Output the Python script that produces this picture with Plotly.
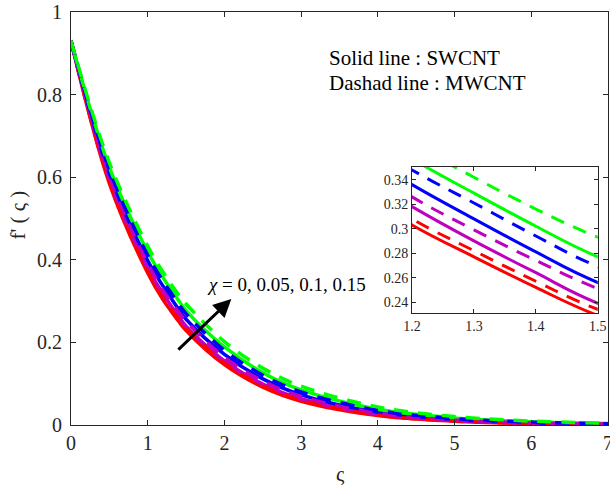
import plotly.graph_objects as go

# eta values (ς)
xs = [0, 0.5, 1, 1.2, 1.3, 1.4, 1.5, 2, 2.5, 3, 4, 5, 6, 7]

# SWCNT (solid) f'(ς) for χ = 0, 0.05, 0.1, 0.15
sw_chi0   = [0.93, 0.585, 0.368, 0.303, 0.277, 0.252, 0.229, 0.146, 0.0916, 0.0576, 0.0228, 0.0090, 0.0036, 0.0014]
sw_chi005 = [0.93, 0.595, 0.380, 0.318, 0.290, 0.264, 0.239, 0.155, 0.0994, 0.0635, 0.0260, 0.0106, 0.0043, 0.0018]
sw_chi01  = [0.93, 0.609, 0.398, 0.336, 0.308, 0.281, 0.256, 0.171, 0.1116, 0.0731, 0.0313, 0.0134, 0.0057, 0.0025]
sw_chi015 = [0.93, 0.624, 0.419, 0.357, 0.329, 0.302, 0.277, 0.189, 0.1265, 0.0849, 0.0382, 0.0172, 0.0077, 0.0035]
# MWCNT (dashed)
mw_chi0   = [0.93, 0.589, 0.373, 0.308, 0.282, 0.257, 0.234, 0.150, 0.0949, 0.0601, 0.0241, 0.0097, 0.0039, 0.0016]
mw_chi005 = [0.93, 0.603, 0.391, 0.326, 0.299, 0.274, 0.251, 0.164, 0.1065, 0.0690, 0.0290, 0.0122, 0.0051, 0.0021]
mw_chi01  = [0.93, 0.618, 0.411, 0.348, 0.321, 0.294, 0.269, 0.181, 0.1206, 0.0802, 0.0354, 0.0157, 0.0069, 0.0031]
mw_chi015 = [0.93, 0.635, 0.433, 0.370, 0.342, 0.316, 0.293, 0.202, 0.1377, 0.0940, 0.0438, 0.0204, 0.0095, 0.0044]

colors = ["#ff0000", "#bf00bf", "#0000ff", "#00ff00"]
solid_series = [sw_chi0, sw_chi005, sw_chi01, sw_chi015]
dashed_series = [mw_chi0, mw_chi005, mw_chi01, mw_chi015]

main_xticks = [0, 1, 2, 3, 4, 5, 6, 7]
main_yticks = [0, 0.2, 0.4, 0.6, 0.8, 1]
inset_xticks = [1.2, 1.3, 1.4, 1.5]
inset_yticks = [0.24, 0.26, 0.28, 0.3, 0.32, 0.34]

FONT = "Liberation Serif"
AX = "#262626"
DASH = "14px,10px"

fig = go.Figure()
for xa, ya, w in [("x", "y", 3.5), ("x2", "y2", 3)]:
    for c, ys in zip(colors, solid_series):
        fig.add_trace(go.Scatter(x=xs, y=ys, mode="lines", xaxis=xa, yaxis=ya,
                                 line=dict(color=c, width=w, shape="spline"), showlegend=False))
    for c, ys in zip(colors, dashed_series):
        fig.add_trace(go.Scatter(x=xs, y=ys, mode="lines", xaxis=xa, yaxis=ya,
                                 line=dict(color=c, width=w, dash=DASH, shape="spline"), showlegend=False))

axis_common = dict(showline=True, linecolor=AX, linewidth=1, mirror="ticks", ticks="inside",
                   tickcolor=AX, showgrid=False, zeroline=False, automargin=False,
                   ticklabeloverflow="allow")

fig.update_layout(
    width=610, height=486,
    margin=dict(l=71, r=2, t=12, b=61),
    paper_bgcolor="white", plot_bgcolor="white",
    font=dict(family=FONT, color=AX),
    xaxis=dict(domain=[0, 1], range=[0, 7], tickvals=main_xticks, ticklen=5,
               ticktext=[str(v) for v in main_xticks],
               tickfont=dict(size=20, family=FONT, color=AX), **axis_common),
    yaxis=dict(domain=[0, 1], range=[0, 1], tickvals=main_yticks, ticklen=5,
               ticktext=[f"{v:g}" for v in main_yticks], ticklabelstandoff=4,
               tickfont=dict(size=20, family=FONT, color=AX), **axis_common),
    xaxis2=dict(domain=[0.635, 0.981], range=[1.2, 1.5], tickvals=inset_xticks, ticklen=4,
                ticktext=[f"{v:g}" for v in inset_xticks],
                anchor="y2", tickfont=dict(size=14, family=FONT, color=AX), **axis_common),
    yaxis2=dict(domain=[0.271, 0.625], range=[0.231, 0.3505], tickvals=inset_yticks, ticklen=4,
                ticktext=[f"{v:g}" for v in inset_yticks],
                anchor="x2", tickfont=dict(size=14, family=FONT, color=AX), **axis_common),
)

fig.add_annotation(x=2.09, y=0.305, ax=1.38, ay=0.179, xref="x", yref="y", axref="x", ayref="y",
                   showarrow=True, arrowhead=2, arrowsize=1.2, arrowwidth=3, arrowcolor="black", text="")
fig.add_annotation(x=1.747, y=0.339, xref="x", yref="y", xanchor="left", yanchor="middle",
                   text="<i>χ</i> = 0, 0.05, 0.1, 0.15", showarrow=False,
                   font=dict(size=19, family=FONT, color="black"))
fig.add_annotation(x=0.477, y=0.889, xref="paper", yref="paper", xanchor="left", yanchor="middle",
                   text="Solid line : SWCNT", showarrow=False, font=dict(size=21, family=FONT, color="black"))
fig.add_annotation(x=0.477, y=0.828, xref="paper", yref="paper", xanchor="left", yanchor="middle",
                   text="Dashad line : MWCNT", showarrow=False, font=dict(size=21, family=FONT, color="black"))
fig.add_annotation(x=-0.098, y=0.508, xref="paper", yref="paper", xanchor="center", yanchor="middle",
                   text="f' ( ς )", textangle=-90, showarrow=False, font=dict(size=21, family=FONT, color=AX))
fig.add_annotation(x=0.501, y=-0.118, xref="paper", yref="paper", xanchor="center", yanchor="middle",
                   text="ς", showarrow=False, font=dict(size=21, family=FONT, color=AX))

fig.write_html("out.html")
